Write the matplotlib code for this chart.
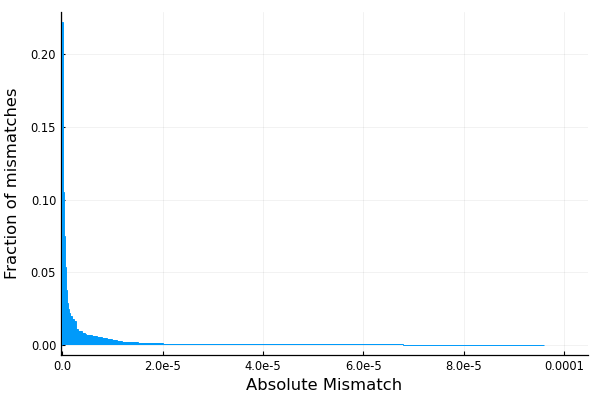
import matplotlib
matplotlib.use("Agg")
import matplotlib.pyplot as plt
import numpy as np

# fine bins near zero (width 2e-7), fraction of mismatches per bin
fine_edges = np.arange(0, 26) * 2e-7
fine_vals = [0.222, 0.105, 0.075, 0.054, 0.038, 0.029, 0.025, 0.022, 0.020, 0.020,
             0.018, 0.018, 0.0165, 0.0165, 0.011, 0.011, 0.0095, 0.0095, 0.0095, 0.0095,
             0.0087, 0.0087, 0.0087, 0.0075, 0.0073]

# mid bins (width 1e-6) from 5e-6 to 2e-5
mid_edges = np.arange(6, 21) * 1e-6
mid_vals = [0.0068, 0.0062, 0.0055, 0.0048, 0.0040, 0.0034, 0.0029, 0.0025,
            0.0022, 0.0019, 0.0017, 0.0015, 0.0014, 0.0013, 0.0012]

# tail bins (width 4e-6) from 2e-5 to 9.6e-5
tail_edges = np.arange(24, 97, 4) * 1e-6
tail_vals = [0.0011, 0.0010, 0.0009, 0.0009, 0.0008, 0.0008, 0.0007, 0.0007,
             0.0007, 0.0006, 0.0006, 0.0006, 0.0005, 0.0005, 0.0005, 0.0004,
             0.0004, 0.0004, 0.0004]

x_ticks = [0, 2e-5, 4e-5, 6e-5, 8e-5, 1e-4]
x_ticklabels = ["0.0", "2.0e-5", "4.0e-5", "6.0e-5", "8.0e-5", "0.0001"]
y_ticks = [0.0, 0.05, 0.10, 0.15, 0.20]

edges = np.concatenate([fine_edges, mid_edges, tail_edges])
vals = np.array(fine_vals + mid_vals + tail_vals)

fig = plt.figure(figsize=(6, 4), dpi=100)
ax = fig.add_axes([61 / 600, 1 - 355 / 400, 527 / 600, 343 / 400])

ax.stairs(vals, edges, fill=True, color="#009AFA", lw=0, zorder=3)
ax.stairs(vals, edges, fill=False, color="#009AFA", lw=0.7, zorder=3)

ax.set_xlim(-2.5e-7, 1.048e-4)
ax.set_ylim(-0.0067, 0.2289)
ax.set_xticks(x_ticks, x_ticklabels)
ax.set_yticks(y_ticks, [f"{v:.2f}" for v in y_ticks])
ax.tick_params(direction="in", length=3, width=0.8, labelsize=8.3, colors="black")
ax.grid(True, color="black", alpha=0.07, lw=0.5)
ax.set_axisbelow(True)
for s in ["top", "right"]:
    ax.spines[s].set_visible(False)
for s in ["left", "bottom"]:
    ax.spines[s].set_linewidth(0.9)
    ax.spines[s].set_zorder(1)

ax.set_xlabel("Absolute Mismatch", fontsize=11.8)
ax.set_ylabel("Fraction of mismatches", fontsize=11.8, labelpad=8)

fig.savefig("out.png", dpi=100)
